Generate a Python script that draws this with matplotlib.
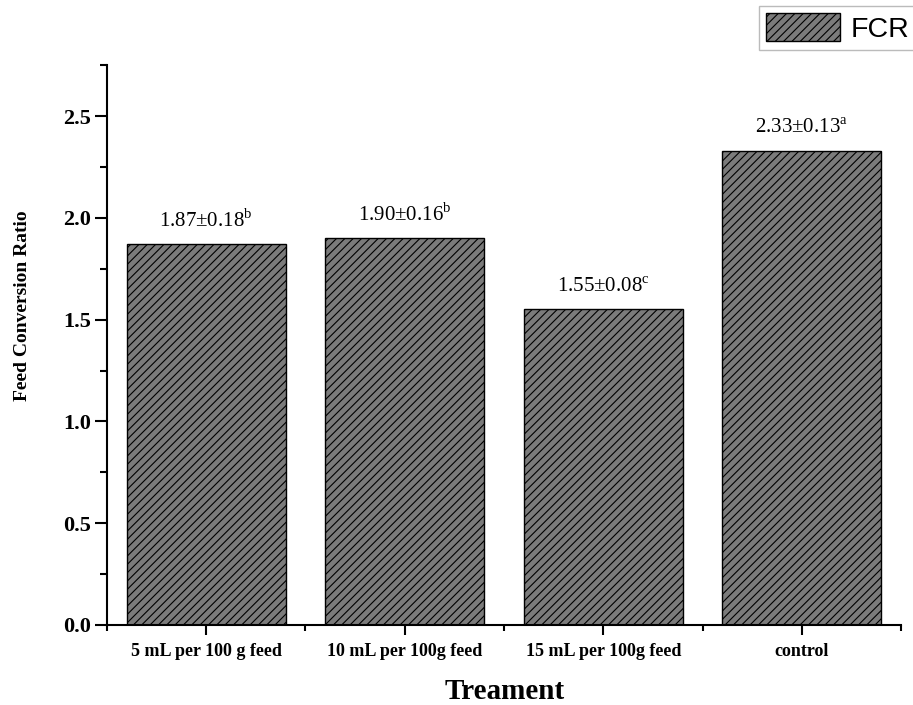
import matplotlib
matplotlib.use('Agg')
import matplotlib.pyplot as plt
from matplotlib.ticker import MultipleLocator, FixedLocator
from matplotlib.patches import Patch

# data
treatments = ['5 mL per 100 g feed', '10 mL per 100g feed', '15 mL per 100g feed', 'control']
fcr_mean = [1.87, 1.90, 1.55, 2.33]
fcr_sd = [0.18, 0.16, 0.08, 0.13]
letters = ['b', 'b', 'c', 'a']

plt.rcParams['font.family'] = 'Liberation Serif'
plt.rcParams['mathtext.fontset'] = 'custom'
plt.rcParams['mathtext.rm'] = 'Liberation Serif'
plt.rcParams['hatch.linewidth'] = 0.8
plt.rcParams['hatch.color'] = 'black'

fig = plt.figure(figsize=(9.13, 7.05), dpi=100)
ax = fig.add_axes([0.117, 0.1135, 0.870, 0.794])

x = list(range(len(treatments)))
bars = ax.bar(x, fcr_mean, width=0.8, color='#7b7b7b', edgecolor='black',
              linewidth=1.0, hatch='////')

for xi, m, s, l in zip(x, fcr_mean, fcr_sd, letters):
    ax.annotate('{:.2f}±{:.2f}'.format(m, s) + r'$^{\mathrm{' + l + '}}$',
                (xi, m), xytext=(0, 9), textcoords='offset points',
                ha='center', va='bottom', fontsize=15)

ax.set_xlim(-0.5, 3.5)
ax.set_ylim(0, 2.75)
ax.set_xticks(x)
ax.set_xticklabels(treatments, fontsize=13, fontweight='bold')
ax.xaxis.set_minor_locator(FixedLocator([-0.5, 0.5, 1.5, 2.5, 3.5]))
ax.yaxis.set_minor_locator(MultipleLocator(0.25))
ax.set_yticks([0, 0.5, 1.0, 1.5, 2.0, 2.5])
ax.set_yticklabels(['0.0', '0.5', '1.0', '1.5', '2.0', '2.5'], fontsize=16, fontweight='bold')
ax.tick_params(axis='y', which='major', direction='out', length=8.5, width=1.5, pad=3)
ax.tick_params(axis='y', which='minor', direction='out', length=5, width=1.5)
ax.tick_params(axis='x', which='major', direction='out', length=7, width=1.5, pad=6)
ax.tick_params(axis='x', which='minor', direction='out', length=4, width=1.5)

ax.spines['top'].set_visible(False)
ax.spines['right'].set_visible(False)
ax.spines['left'].set_linewidth(1.5)
ax.spines['bottom'].set_linewidth(1.5)

ax.set_xlabel('Treament', fontsize=21, fontweight='bold', va='baseline')
ax.xaxis.set_label_coords(0.501, -0.132)
ax.set_ylabel('Feed Conversion Ratio', fontsize=14, fontweight='bold')
ax.yaxis.set_label_coords(-0.095, 0.57)

handle = Patch(facecolor='#7b7b7b', edgecolor='black', hatch='////', linewidth=1.0)
leg = fig.legend([handle], ['FCR'], loc='upper left', bbox_to_anchor=(0.8313, 0.9915),
                 prop={'family': 'Liberation Sans', 'size': 20.5}, frameon=True,
                 fancybox=False, edgecolor='#aaaaaa', handlelength=2.6, handleheight=1.12,
                 borderpad=0.25, handletextpad=0.38, borderaxespad=0)
leg.get_frame().set_linewidth(1.0)

fig.savefig('out.png', dpi=100)
